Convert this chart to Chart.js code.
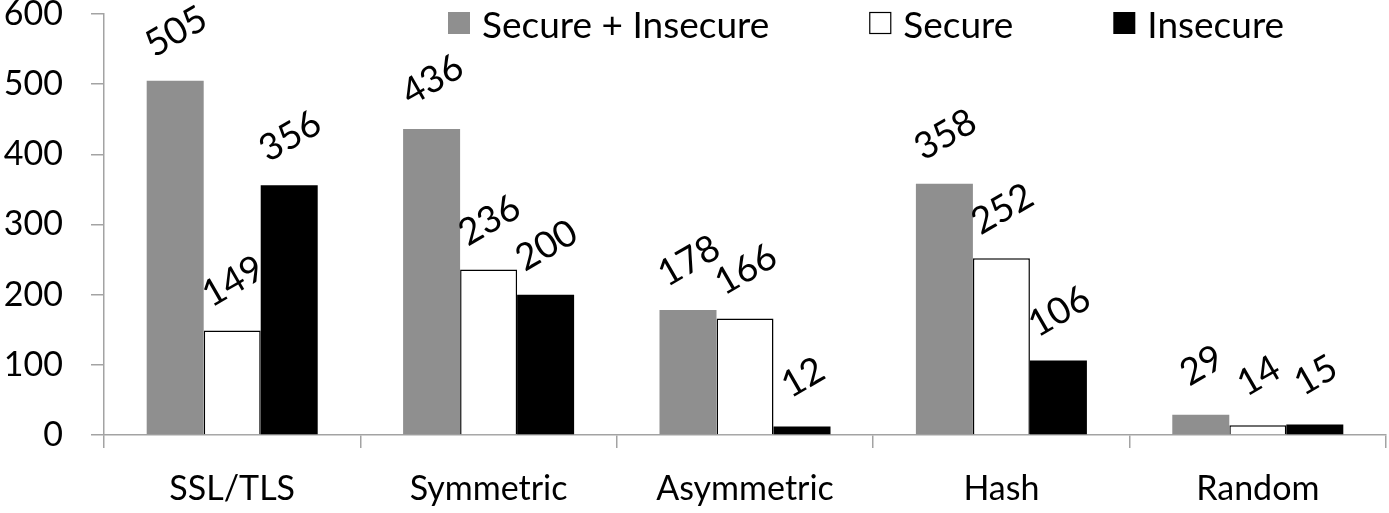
<!DOCTYPE html>
<html>
<head>
<meta charset="utf-8">
<script src="https://cdn.jsdelivr.net/npm/chart.js"></script>
<style>
  html, body { margin: 0; padding: 0; background: #fff; }
  #wrap { width: 1389px; height: 513px; }
</style>
</head>
<body>
<div id="wrap"><canvas id="chart" width="1389" height="513"></canvas></div>
<script>
// Data
const categories = ["SSL/TLS", "Symmetric", "Asymmetric", "Hash", "Random"];
const seriesNames = ["Secure + Insecure", "Secure", "Insecure"];
const bothValues = [505, 436, 178, 358, 29];
const secureValues = [149, 236, 166, 252, 14];
const insecureValues = [356, 200, 12, 106, 15];
const yTicks = [0, 100, 200, 300, 400, 500, 600];

const FONT = "Lato, 'Open Sans', sans-serif";
const FONT_SIZE = 34;
const LABEL_SIZE = 37;
const LEGEND_SIZE = 37;
const AXIS_GRAY = "#a3a3a3";

// Rotated value labels above each bar
const valueLabels = {
  id: "valueLabels",
  afterDatasetsDraw(chart) {
    const ctx = chart.ctx;
    ctx.save();
    ctx.font = `${LABEL_SIZE}px ${FONT}`;
    ctx.fillStyle = "#000";
    ctx.textAlign = "center";
    ctx.textBaseline = "middle";
    chart.data.datasets.forEach((ds, i) => {
      chart.getDatasetMeta(i).data.forEach((bar, j) => {
        ctx.save();
        ctx.translate(bar.x + 1, bar.y - 49);
        ctx.rotate(-Math.PI / 6);
        ctx.fillText(String(ds.data[j]), 0, 0);
        ctx.restore();
      });
    });
    ctx.restore();
  }
};

// Legend drawn inside the plot, as in the original
const insideLegend = {
  id: "insideLegend",
  afterDraw(chart) {
    const ctx = chart.ctx;
    const box = 22;
    ctx.save();
    ctx.font = `${LEGEND_SIZE}px ${FONT}`;
    ctx.textBaseline = "middle";
    ctx.textAlign = "left";
    let x = chart.chartArea.left + 344;
    const y = 12;
    chart.data.datasets.forEach(ds => {
      ctx.fillStyle = ds.backgroundColor;
      ctx.fillRect(x, y, box, box);
      if (ds.borderWidth) {
        ctx.strokeStyle = ds.borderColor;
        ctx.lineWidth = 1.2;
        ctx.strokeRect(x + 0.5, y + 0.5, box - 1, box - 1);
      }
      ctx.fillStyle = "#000";
      ctx.fillText(ds.label, x + box + 12, y + box / 2 + 3);
      x += box + 12 + ctx.measureText(ds.label).width + 100;
    });
    ctx.restore();
  }
};

new Chart(document.getElementById("chart").getContext("2d"), {
  type: "bar",
  data: {
    labels: categories,
    datasets: [
      { label: seriesNames[0], data: bothValues, backgroundColor: "#8f8f8f", borderWidth: 0 },
      { label: seriesNames[1], data: secureValues, backgroundColor: "#ffffff", borderColor: "#000000", borderWidth: 1.5 },
      { label: seriesNames[2], data: insecureValues, backgroundColor: "#000000", borderWidth: 0 }
    ]
  },
  options: {
    responsive: false,
    animation: false,
    layout: { padding: { top: 14, right: 3, left: 0, bottom: 0 } },
    datasets: { bar: { categoryPercentage: 0.667, barPercentage: 1.0 } },
    plugins: {
      legend: { display: false },
      tooltip: { enabled: false }
    },
    scales: {
      x: {
        afterFit: s => { s.height = 78; s.paddingLeft = 0; s.paddingRight = 0; },
        grid: { display: true, drawOnChartArea: false, drawTicks: true, tickLength: 13, color: AXIS_GRAY, lineWidth: 1.5 },
        border: { display: true, color: AXIS_GRAY, width: 1.5 },
        ticks: { color: "#000", font: { family: FONT, size: FONT_SIZE }, padding: 21, maxRotation: 0 }
      },
      y: {
        min: 0,
        max: 600,
        afterFit: s => { s.width = 104; s.paddingTop = 0; s.paddingBottom = 0; },
        afterBuildTicks: s => { s.ticks = yTicks.map(v => ({ value: v })); },
        grid: { display: true, drawOnChartArea: false, drawTicks: true, tickLength: 13, color: AXIS_GRAY, lineWidth: 1.5 },
        border: { display: true, color: AXIS_GRAY, width: 1.5 },
        ticks: { color: "#000", font: { family: FONT, size: FONT_SIZE }, padding: 28 }
      }
    }
  },
  plugins: [valueLabels, insideLegend]
});
</script>
</body>
</html>
